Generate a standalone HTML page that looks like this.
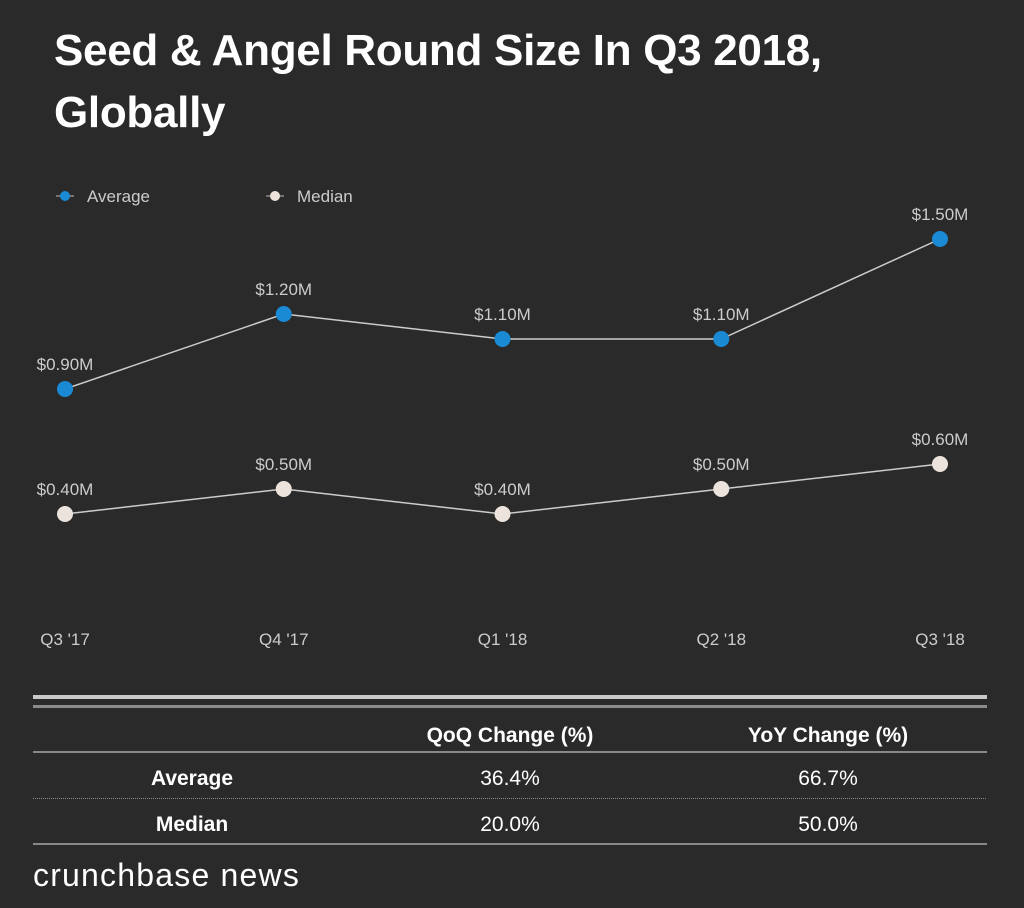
<!DOCTYPE html>
<html><head><meta charset="utf-8"><style>
body{margin:0;width:1024px;height:908px;background:#2a2a2a;overflow:hidden;font-family:"Liberation Sans",sans-serif;}
h1{position:absolute;left:54px;top:20px;margin:0;color:#fff;font-size:44px;line-height:62px;font-weight:bold;letter-spacing:-0.3px}
svg{position:absolute;left:0;top:0}
</style></head><body>
<h1>Seed &amp; Angel Round Size In Q3 2018,<br>Globally</h1>
<svg id="c" width="1024" height="908"></svg>
<script>
const categories=["Q3 '17","Q4 '17","Q1 '18","Q2 '18","Q3 '18"];
const averageValues=[0.9,1.2,1.1,1.1,1.5];
const medianValues=[0.4,0.5,0.4,0.5,0.6];
const tableRows=["Average","Median"];
const tableHeaders=["QoQ Change (%)","YoY Change (%)"];
const qoqValues=["36.4%","20.0%"];
const yoyValues=["66.7%","50.0%"];
const svg=document.getElementById('c');const NS='http://www.w3.org/2000/svg';
function xs(i){return 65+i*218.75;}
function ys(v){return 614-v*250;}
function mk(t,a,p){const e=document.createElementNS(NS,t);for(const k in a)e.setAttribute(k,a[k]);(p||svg).appendChild(e);return e;}
function txt(s,a){const e=mk('text',a);e.textContent=s;return e;}
let l=mk('line',{x1:56,y1:196,x2:74,y2:196,stroke:'#bbb','stroke-width':1});


let lc=mk('circle',{cx:65,cy:196,r:5,fill:'#1a8ad4'});


let lt=txt('Average',{x:87,y:202,fill:'#ccc','font-size':17});


let l2=mk('line',{x1:266,y1:196,x2:284,y2:196,stroke:'#bbb','stroke-width':1});


let lc2=mk('circle',{cx:275,cy:196,r:5,fill:'#ece4dc'});


let lt2=txt('Median',{x:297,y:202,fill:'#ccc','font-size':17});


function series(vals,color,name){
  const pts=vals.map((v,i)=>xs(i)+','+ys(v)).join(' ');
  const pl=mk('polyline',{points:pts,fill:'none',stroke:'#ccc','stroke-width':1.5});
  
  
  vals.forEach((v,i)=>{
    const c=mk('circle',{cx:xs(i),cy:ys(v),r:8,fill:color});
    
    
    const t=txt('$'+v.toFixed(2)+'M',{x:xs(i),y:ys(v)-19,fill:'#ccc','font-size':17,'text-anchor':'middle'});
    
    
  });
}
series(averageValues,'#1a8ad4','average');
series(medianValues,'#ece4dc','median');
categories.forEach((c,i)=>{
  const t=txt(c,{x:xs(i),y:645,fill:'#ccc','font-size':17,'text-anchor':'middle'});
  
  
});
const r1=mk('rect',{x:33,y:695,width:954,height:4,fill:'#c8c8c8'});


const r2=mk('rect',{x:33,y:705,width:954,height:3,fill:'#8a8a8a'});


const hx=[510,828];
tableHeaders.forEach((h,i)=>{
  const t=txt(h,{x:hx[i],y:742,fill:'#fff','font-size':21,'font-weight':'bold','text-anchor':'middle'});
  
  
});
const r3=mk('rect',{x:33,y:751,width:954,height:2,fill:'#888'});


tableRows.forEach((r,i)=>{
  const y=785+i*46;
  const a=txt(r,{x:192,y:y,fill:'#fff','font-size':21,'font-weight':'bold','text-anchor':'middle'});
  
  
  const b=txt(qoqValues[i],{x:510,y:y,fill:'#fff','font-size':21,'text-anchor':'middle'});
  
  
  const c=txt(yoyValues[i],{x:828,y:y,fill:'#fff','font-size':21,'text-anchor':'middle'});
  
  
});
const r4=mk('line',{x1:33,y1:798.5,x2:987,y2:798.5,stroke:'#888','stroke-width':1,'stroke-dasharray':'1,1'});


const r5=mk('rect',{x:33,y:843,width:954,height:2,fill:'#888'});


const br=txt('crunchbase news',{x:33,y:886,fill:'#fff','font-size':32,'letter-spacing':'1.2'});


</script>
</body></html>
